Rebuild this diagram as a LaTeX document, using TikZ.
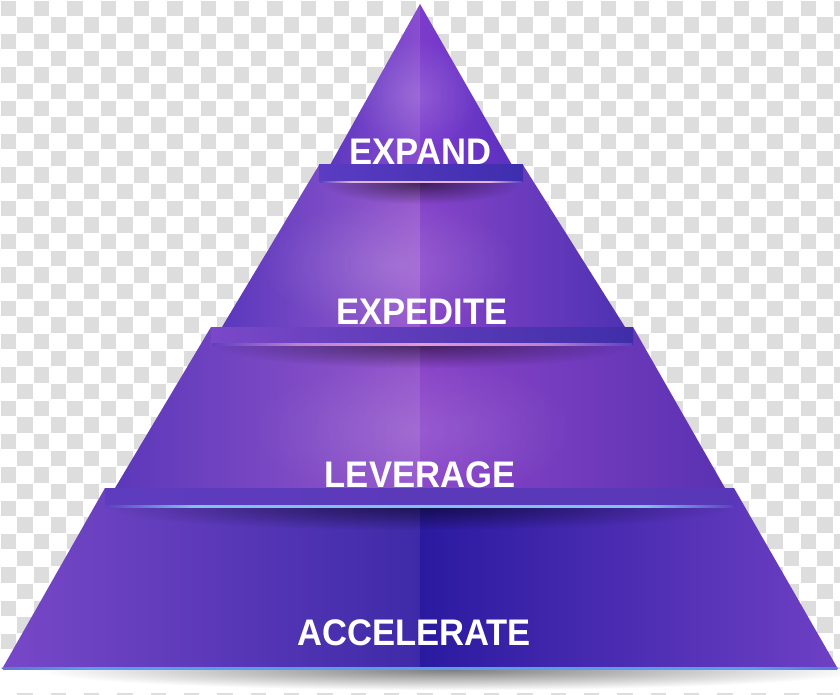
\documentclass[tikz,border=0pt]{standalone}
\usepackage{fontspec}
\setmainfont{Liberation Sans}
\usetikzlibrary{fadings}
\definecolor{chk}{HTML}{DDDDDD}
% tier 1
\definecolor{aL}{HTML}{5E38C0}\definecolor{aC}{HTML}{8A4ED0}
\definecolor{aD}{HTML}{7C3CCC}\definecolor{aR}{HTML}{5C30C0}
% tier 2
\definecolor{bL}{HTML}{5A38BC}\definecolor{bC}{HTML}{9A5CCF}
\definecolor{bD}{HTML}{8744C9}\definecolor{bR}{HTML}{4E32B2}
% tier 3
\definecolor{cL}{HTML}{5C38BA}\definecolor{cC}{HTML}{9657CC}
\definecolor{cD}{HTML}{8A44C8}\definecolor{cR}{HTML}{5A32B2}
% tier 4
\definecolor{dL}{HTML}{7848C8}\definecolor{dC}{HTML}{3E2AA8}
\definecolor{dD}{HTML}{2A1AA0}\definecolor{dR}{HTML}{6E40C4}
% bands
\definecolor{b2L}{HTML}{5B3CC2}\definecolor{b2M}{HTML}{5A3AC0}\definecolor{b2R}{HTML}{3E2EAE}
\definecolor{b3L}{HTML}{7A48C8}\definecolor{b3M}{HTML}{8A50CC}\definecolor{b3R}{HTML}{3F2EA8}
\definecolor{b4L}{HTML}{5E3CBE}\definecolor{b4M}{HTML}{9A58CC}\definecolor{b4R}{HTML}{5838B6}
% highlight lines
\definecolor{hE}{HTML}{5E40C0}
\definecolor{h2}{HTML}{E4B4DC}\definecolor{h3}{HTML}{E49CD2}
\definecolor{h4}{HTML}{7EC4EE}\definecolor{h5}{HTML}{5C9CEC}
\pgfdeclarehorizontalshading{hlA}{100bp}{color(0bp)=(hE); color(25bp)=(hE); color(33bp)=(h2); color(67bp)=(h2); color(75bp)=(hE); color(100bp)=(hE)}
\pgfdeclarehorizontalshading{hlB}{100bp}{color(0bp)=(hE); color(25bp)=(hE); color(35bp)=(h3!70!hE); color(50bp)=(h3); color(65bp)=(h3!70!hE); color(75bp)=(hE); color(100bp)=(hE)}
\pgfdeclarehorizontalshading{hlC}{100bp}{color(0bp)=(hE); color(25bp)=(hE); color(32bp)=(h4); color(68bp)=(h4); color(75bp)=(hE); color(100bp)=(hE)}
\pgfdeclarehorizontalshading{hlD}{100bp}{color(0bp)=(h5!60!hE); color(25bp)=(h5!60!hE); color(30bp)=(h5); color(70bp)=(h5); color(75bp)=(h5!60!hE); color(100bp)=(h5!60!hE)}
\tikzfading[name=radfade, inner color=transparent!0, outer color=transparent!100]
\tikzset{
  lbl/.style={text=white, font=\fontsize{37}{40}\selectfont\bfseries, inner sep=0pt},
}
\newcommand{\lbltext}[1]{\scalebox{0.935}[1]{#1}}
\begin{document}
\begin{tikzpicture}[x=1pt,y=-1pt]
\useasboundingbox (0,0) rectangle (840,695);
% checkerboard background
\fill[white] (0,0) rectangle (840,695);
\foreach \i in {0,...,50}{
  \foreach \j in {0,...,41}{
    \pgfmathtruncatemacro\pk{mod(\i+\j,2)}
    \ifnum\pk=0
      \fill[chk] ({\i*16.667+0.6},{\j*16.667+0.6}) rectangle ++(15.5,15.5);
    \fi
  }
}
% white area and shadow below the base
\fill[white] (0,669) rectangle (840,693);
\begin{scope}
  \clip (0,669) rectangle (840,693);
  \fill[black, opacity=0.5, path fading=radfade] (40,650) rectangle (860,690);
\end{scope}

% ---------- tier 4 (bottom) ----------
\shade[left color=dL, right color=dC] (105,488) -- (420,488) -- (420,669) -- (2,669) -- cycle;
\shade[left color=dD, right color=dR] (420,488) -- (734,488) -- (838,669) -- (420,669) -- cycle;
% ---------- tier 3 ----------
\shade[left color=cL, right color=cC] (211,327) -- (420,327) -- (420,488) -- (115,488) -- cycle;
\shade[left color=cD, right color=cR] (420,327) -- (633,327) -- (725,488) -- (420,488) -- cycle;
% ---------- tier 2 ----------
\shade[left color=bL, right color=bC] (319,165) -- (420,165) -- (420,327) -- (222,327) -- cycle;
\shade[left color=bD, right color=bR] (420,165) -- (523,165) -- (625,327) -- (420,327) -- cycle;
% ---------- tier 1 (apex) ----------
\shade[left color=aL, right color=aC] (420,4) -- (420,165) -- (330,165) -- cycle;
\shade[left color=aD, right color=aR] (420,4) -- (512,165) -- (420,165) -- cycle;

% soft glows
\begin{scope}
  \clip (420,4) -- (512,165) -- (330,165) -- cycle;
  \fill[white, opacity=0.16, path fading=radfade] (350,40) rectangle (480,150);
\end{scope}
\begin{scope}
  \clip (319,165) -- (523,165) -- (625,327) -- (222,327) -- cycle;
  \fill[white, opacity=0.15, path fading=radfade] (260,200) rectangle (520,330);
\end{scope}
\begin{scope}
  \clip (211,327) -- (633,327) -- (725,488) -- (115,488) -- cycle;
  \fill[white, opacity=0.12, path fading=radfade] (250,360) rectangle (580,500);
\end{scope}

% ---------- bands, highlight lines and shadows ----------
% band under tier 1
\shade[left color=b2L, middle color=b2M, right color=b2R] (319,165) rectangle (523,182);
\begin{scope}
  \clip (300,183) rectangle (540,205);
  \fill[black, opacity=0.55, path fading=radfade] (322,162) rectangle (520,204);
\end{scope}
\shade[shading=hlA] (320,181.8) rectangle (522,183);
% band under tier 2
\shade[left color=b3L, middle color=b3M, right color=b3R] (211,327) rectangle (633,344);
\begin{scope}
  \clip (200,345) rectangle (640,368);
  \fill[black, opacity=0.5, path fading=radfade] (214,322) rectangle (630,368);
\end{scope}
\shade[shading=hlB] (212,343.8) rectangle (632,345);
% band under tier 3
\shade[left color=b4L, middle color=b4M, right color=b4R] (105,488) rectangle (734,506);
\begin{scope}
  \clip (100,507) rectangle (740,530);
  \fill[black, opacity=0.5, path fading=radfade] (108,484) rectangle (731,530);
\end{scope}
\shade[shading=hlC] (106,505.8) rectangle (733,507);
% base line
\shade[shading=hlD] (3,667.8) rectangle (837,669.2);

% ---------- labels ----------
\node[lbl] (expand) at (420.5,152) {\lbltext{EXPAND}};
\node[lbl] (expedite) at (422,312) {\lbltext{EXPEDITE}};
\node[lbl] (leverage) at (420,475) {\lbltext{LEVERAGE}};
\node[lbl] (accelerate) at (414,633) {\lbltext{ACCELERATE}};
\end{tikzpicture}
\end{document}
